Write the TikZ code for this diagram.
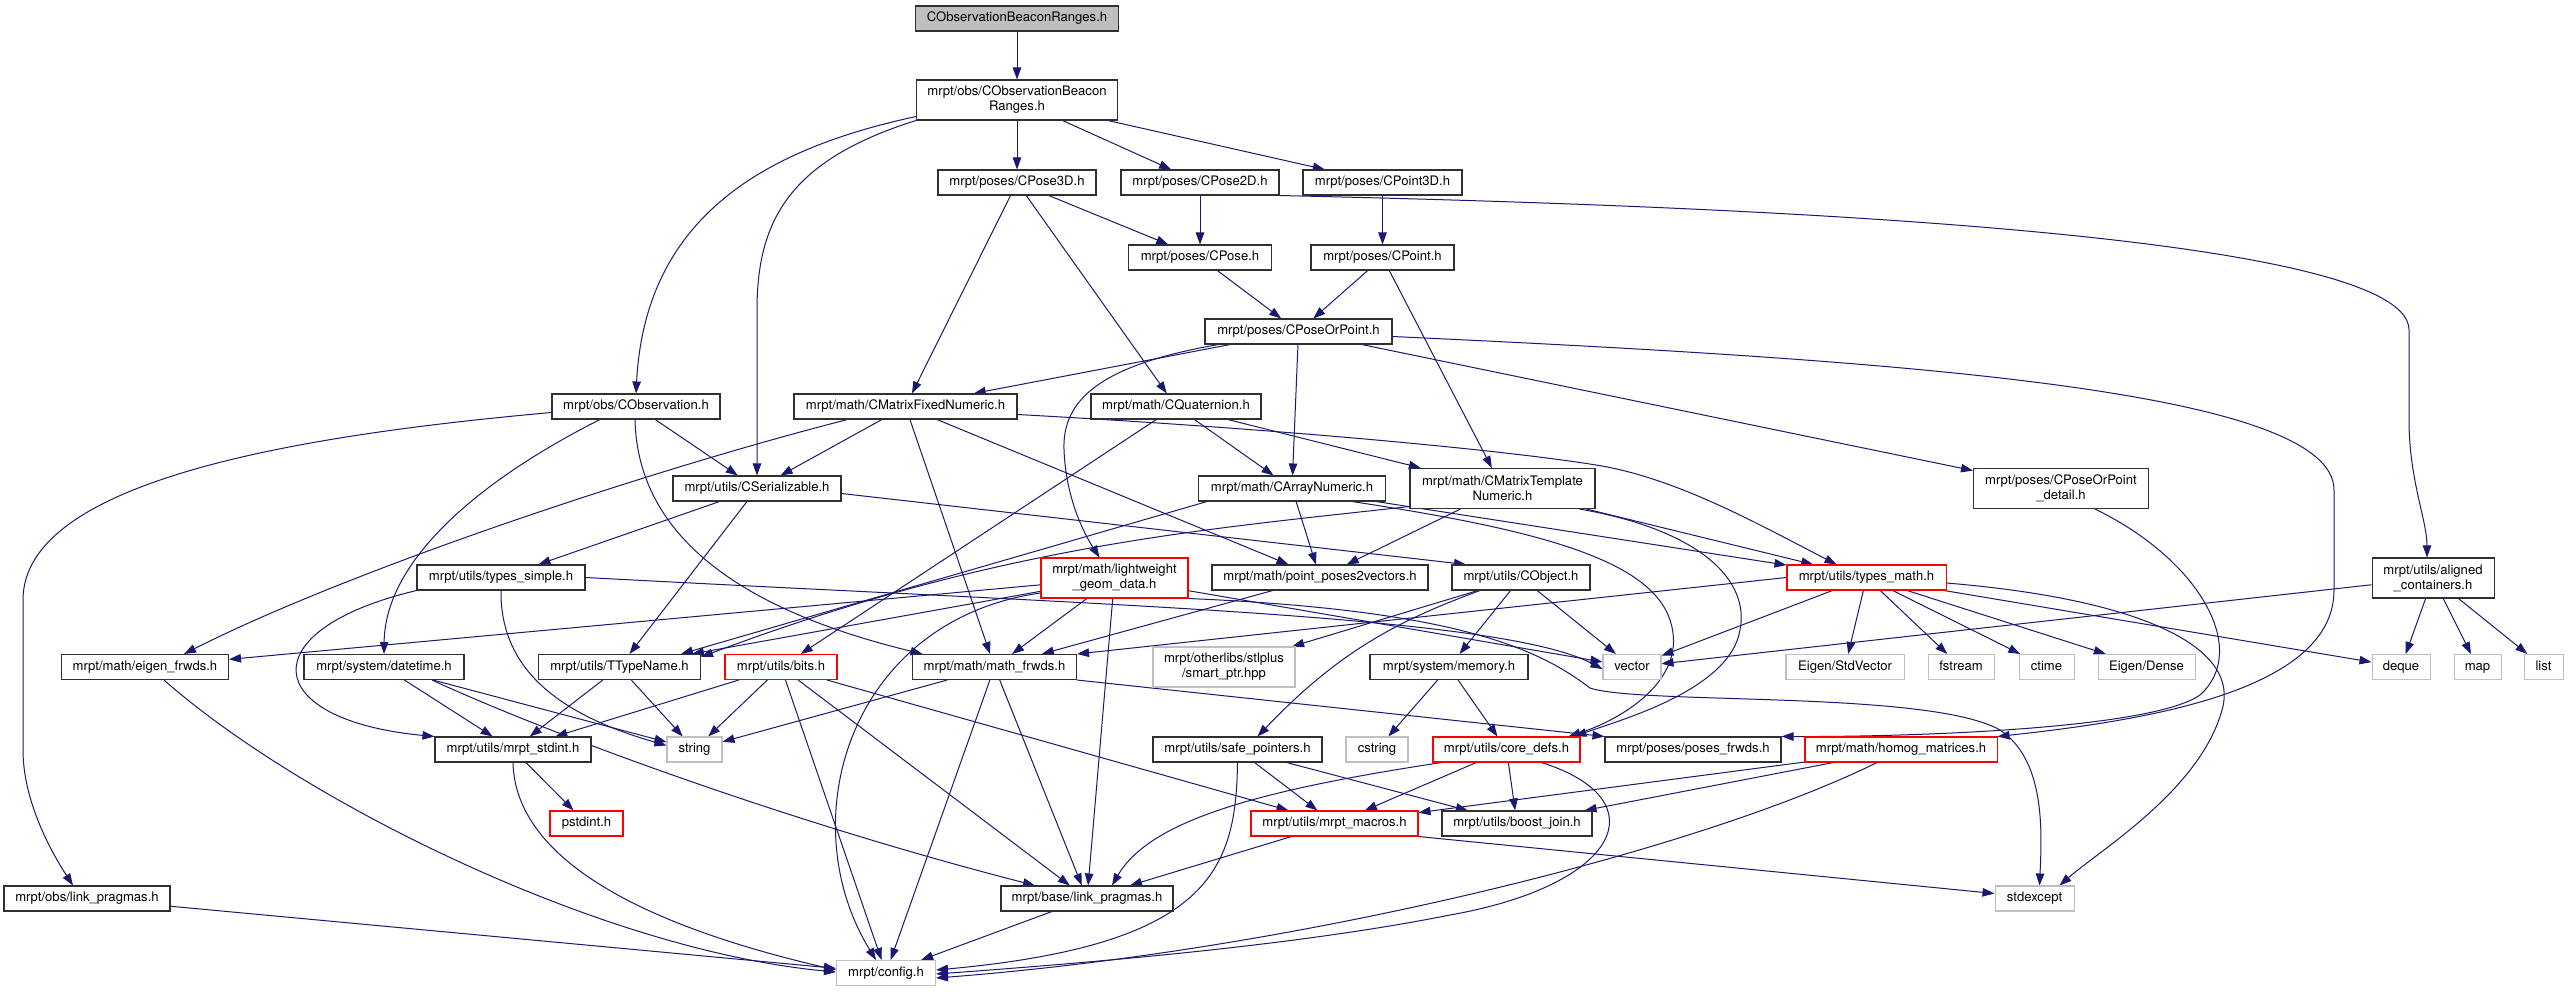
\documentclass[tikz,border=0pt]{standalone}
\usepackage{fontspec}
\setmainfont{TeX Gyre Heros}
\usetikzlibrary{arrows.meta,backgrounds}
\definecolor{edgeblue}{HTML}{191970}
\definecolor{greyline}{HTML}{BFBFBF}
\definecolor{topfill}{HTML}{BFBFBF}
\definecolor{boxline}{HTML}{303030}
\newcommand{\gfont}{\fontsize{13.1}{15}\selectfont}
\begin{document}
\begin{tikzpicture}[x=1pt,y=-1pt,
  box/.style={rectangle, draw, fill=white, line width=1.05pt, font=\gfont, inner xsep=2pt, inner ysep=0pt, align=center},
  one/.style={minimum height=25pt, text height=9.6pt, text depth=2.9pt},
  two/.style={minimum height=40pt},
  blk/.style={box, draw=boxline},
  rd/.style={box, draw=red},
  gr/.style={box, draw=greyline},
  dep/.style={draw=edgeblue, line width=1pt, -{Triangle[length=12pt,width=8.5pt]}},
]
\useasboundingbox (0,0) rectangle (2569,992);
% nodes
\node[blk,one,fill=topfill,minimum width=203pt] (top) at (1017,18.5) {CObservationBeaconRanges.h};
\node[blk,two,minimum width=201pt] (obsBR) at (1017,100) {mrpt/obs/CObservationBeacon\\Ranges.h};
\node[blk,one,minimum width=158pt] (pose3d) at (1017,182.5) {mrpt/poses/CPose3D.h};
\node[blk,one,minimum width=158pt] (pose2d) at (1200,182.5) {mrpt/poses/CPose2D.h};
\node[blk,one,minimum width=159pt] (point3d) at (1382.5,182.5) {mrpt/poses/CPoint3D.h};
\node[blk,one,minimum width=143pt] (pose) at (1200,257.5) {mrpt/poses/CPose.h};
\node[blk,one,minimum width=143pt] (point) at (1382.5,257.5) {mrpt/poses/CPoint.h};
\node[blk,one,minimum width=187pt] (poseorpoint) at (1298.5,331.5) {mrpt/poses/CPoseOrPoint.h};
\node[blk,one,minimum width=168pt] (cobservation) at (636,406.5) {mrpt/obs/CObservation.h};
\node[blk,one,minimum width=223pt] (cmfixed) at (905.5,406.5) {mrpt/math/CMatrixFixedNumeric.h};
\node[blk,one,minimum width=170pt] (quat) at (1176,406.5) {mrpt/math/CQuaternion.h};
\node[blk,one,minimum width=168pt] (serial) at (757,488.5) {mrpt/utils/CSerializable.h};
\node[blk,one,minimum width=187pt] (arraynum) at (1292,488.5) {mrpt/math/CArrayNumeric.h};
\node[blk,two,minimum width=185pt] (cmtempl) at (1502.5,488.5) {mrpt/math/CMatrixTemplate\\Numeric.h};
\node[blk,two,minimum width=175pt] (detail) at (2061,488.5) {mrpt/poses/CPoseOrPoint\\\_detail.h};
\node[blk,one,minimum width=168pt] (typessimple) at (501,577.5) {mrpt/utils/types\_simple.h};
\node[rd,two,minimum width=147pt] (lightweight) at (1114.5,578) {mrpt/math/lightweight\\\_geom\_data.h};
\node[blk,one,minimum width=216pt] (pp2v) at (1320,577.5) {mrpt/math/point\_poses2vectors.h};
\node[blk,one,minimum width=138pt] (cobject) at (1521,577.5) {mrpt/utils/CObject.h};
\node[rd,one,minimum width=159pt] (typesmath) at (1866.5,577.5) {mrpt/utils/types\_math.h};
\node[blk,two,minimum width=122pt] (aligned) at (2433,578) {mrpt/utils/aligned\\\_containers.h};
\node[blk,one,minimum width=167pt] (eigenfrwds) at (145,667) {mrpt/math/eigen\_frwds.h};
\node[blk,one,minimum width=160pt] (datetime) at (384,667) {mrpt/system/datetime.h};
\node[blk,one,minimum width=162pt] (ttypename) at (619.5,667) {mrpt/utils/TTypeName.h};
\node[rd,one,minimum width=112pt] (bits) at (781,667) {mrpt/utils/bits.h};
\node[blk,one,minimum width=164pt] (mathfrwds) at (994.5,667) {mrpt/math/math\_frwds.h};
\node[gr,two,minimum width=142pt] (smartptr) at (1224,667) {mrpt/otherlibs/stlplus\\/smart\_ptr.hpp};
\node[blk,one,minimum width=158pt] (memory) at (1449,667) {mrpt/system/memory.h};
\node[gr,one,minimum width=58pt] (vector) at (1632,667) {vector};
\node[gr,one,minimum width=118pt] (stdvector) at (1845,667) {Eigen/StdVector};
\node[gr,one,minimum width=66pt] (fstream) at (1961,667) {fstream};
\node[gr,one,minimum width=55pt] (ctime) at (2046.5,667) {ctime};
\node[gr,one,minimum width=97pt] (eigendense) at (2146.5,667) {Eigen/Dense};
\node[gr,one,minimum width=58pt] (deque) at (2401,667) {deque};
\node[gr,one,minimum width=47pt] (map) at (2477.5,667) {map};
\node[gr,one,minimum width=39pt] (list) at (2543.5,667) {list};
\node[blk,one,minimum width=156pt] (mrptstdint) at (513,749.5) {mrpt/utils/mrpt\_stdint.h};
\node[gr,one,minimum width=55pt] (string) at (694.5,749.5) {string};
\node[blk,one,minimum width=169pt] (safeptr) at (1237.5,749.5) {mrpt/utils/safe\_pointers.h};
\node[gr,one,minimum width=62pt] (cstring) at (1377,749.5) {cstring};
\node[rd,one,minimum width=147pt] (coredefs) at (1506.5,749.5) {mrpt/utils/core\_defs.h};
\node[blk,one,minimum width=176pt] (posesfrwds) at (1693,749.5) {mrpt/poses/poses\_frwds.h};
\node[rd,one,minimum width=192pt] (homog) at (1901,749.5) {mrpt/math/homog\_matrices.h};
\node[rd,one,minimum width=73pt] (pstdint) at (586.5,823.5) {pstdint.h};
\node[rd,one,minimum width=167pt] (macros) at (1334.5,823.5) {mrpt/utils/mrpt\_macros.h};
\node[blk,one,minimum width=150pt] (boostjoin) at (1517,823.5) {mrpt/utils/boost\_join.h};
\node[blk,one,minimum width=166pt] (obslink) at (87,898.5) {mrpt/obs/link\_pragmas.h};
\node[blk,one,minimum width=172pt] (baselink) at (1087,898.5) {mrpt/base/link\_pragmas.h};
\node[gr,one,minimum width=79pt] (stdexcept) at (2034.5,898.5) {stdexcept};
\node[gr,one,minimum width=99pt] (config) at (886,973) {mrpt/config.h};
% edges
\begin{pgfonlayer}{background}
\fill[white] (0,0) rectangle (2569,992);
\draw[dep] (top) -- (obsBR);
\draw[dep] (obsBR) -- (pose3d);
\draw[dep] (obsBR) -- (pose2d);
\draw[dep] (obsBR) -- (point3d);
\draw[dep] ([yshift=4pt]obsBR.south west) .. controls (760,150) and (645,220) .. (cobservation.north);
\draw[dep] (obsBR.south west) .. controls (790,160) and (757,220) .. (757,310) -- (serial.north);
\draw[dep] (pose3d) -- (cmfixed);
\draw[dep] (pose3d) -- (quat);
\draw[dep] (pose3d) -- (pose);
\draw[dep] (pose2d) -- (pose);
\draw[dep] (pose2d.south east) .. controls (1700,205) and (2409,230) .. (2409,330) -- (2409,420) .. controls (2409,480) and (2427,520) .. ([xshift=-6pt]aligned.north);
\draw[dep] (point3d) -- (point);
\draw[dep] (pose) -- (poseorpoint);
\draw[dep] (point) -- (poseorpoint);
\draw[dep] (point) -- (cmtempl);
\draw[dep] (poseorpoint) -- (cmfixed);
\draw[dep] ([xshift=-80pt]poseorpoint.south) .. controls (1100,365) and (1062,400) .. (1064,450) .. controls (1066,500) and (1085,535) .. ([xshift=-15pt]lightweight.north);
\draw[dep] (poseorpoint) -- (arraynum);
\draw[dep] (poseorpoint) -- (detail);
\draw[dep] ([yshift=-5pt]poseorpoint.east) .. controls (1900,360) and (2334,390) .. (2334,490) -- (2334,590) .. controls (2334,690) and (2150,720) .. (homog.north east);
\draw[dep] (cobservation) -- (serial);
\draw[dep] ([yshift=-6pt]cobservation.west) .. controls (300,435) and (23,480) .. (23,600) -- (23,750) .. controls (23,800) and (50,850) .. ([xshift=-14pt]obslink.north);
\draw[dep] ([xshift=-36pt]cobservation.south) .. controls (480,480) and (385,560) .. (datetime.north);
\draw[dep] ([xshift=-1pt]cobservation.south) .. controls (637,510) and (700,600) .. ([xshift=-72pt]mathfrwds.north);
\draw[dep] (cmfixed) -- (serial);
\draw[dep] ([xshift=-58pt]cmfixed.south) .. controls (650,470) and (350,570) .. ([xshift=39pt]eigenfrwds.north);
\draw[dep] (cmfixed) -- (mathfrwds);
\draw[dep] (cmfixed) -- (pp2v);
\draw[dep] ([yshift=-8pt]cmfixed.east) .. controls (1300,430) and (1520,452) .. (1602,466) .. controls (1680,480) and (1760,525) .. ([xshift=-30pt]typesmath.north);
\draw[dep] (quat) -- (arraynum);
\draw[dep] (quat) -- (cmtempl);
\draw[dep] (quat) -- (bits);
\draw[dep] (serial) -- (typessimple);
\draw[dep] (serial) -- (ttypename);
\draw[dep] ([yshift=-5pt]serial.east) -- ([xshift=-55pt]cobject.north);
\draw[dep] (arraynum) -- (pp2v);
\draw[dep] ([xshift=-85pt]arraynum.south) -- ([xshift=-20pt]ttypename.north east);
\draw[dep] (arraynum) -- (typesmath);
\draw[dep] ([xshift=60pt]arraynum.south) .. controls (1540,530) and (1650,560) .. (1670,620) .. controls (1690,680) and (1620,720) .. ([xshift=-12pt]coredefs.north east);
\draw[dep] (cmtempl) -- (pp2v);
\draw[dep] ([yshift=-18pt]cmtempl.west) .. controls (1200,530) and (1000,545) .. ([yshift=-3pt]ttypename.north east);
\draw[dep] (cmtempl) -- (typesmath);
\draw[dep] ([xshift=77pt]cmtempl.south) .. controls (1700,530) and (1750,580) .. (1740,630) .. controls (1730,690) and (1620,720) .. ([xshift=-6pt]coredefs.north east);
\draw[dep] ([xshift=34pt]detail.south) .. controls (2200,560) and (2250,650) .. (2200,695) .. controls (2150,730) and (1900,737) .. (posesfrwds.north east);
\draw[dep] (typessimple.east) .. controls (1100,605) and (1500,615) .. ([yshift=-2pt]vector.west);
\draw[dep] (typessimple.south) .. controls (500,670) and (560,715) .. ([yshift=4pt]string.west);
\draw[dep] (typessimple.south west) .. controls (250,630) and (260,720) .. (mrptstdint.north west);
\draw[dep] (datetime) -- (mrptstdint);
\draw[dep] (datetime) -- (string);
\draw[dep] ([xshift=48pt]datetime.south) .. controls (540,730) and (780,820) .. ([xshift=-52pt]baselink.north);
\draw[dep] (ttypename) -- (mrptstdint);
\draw[dep] (ttypename) -- (string);
\draw[dep] (bits) -- (mrptstdint);
\draw[dep] (bits) -- (string);
\draw[dep] (bits) -- (config);
\draw[dep] (bits) -- (baselink);
\draw[dep] (bits) -- (macros);
\draw[dep] (mathfrwds) -- (string);
\draw[dep] (mathfrwds) -- (config);
\draw[dep] (mathfrwds) -- (baselink);
\draw[dep] (mathfrwds.south east) -- (posesfrwds.north west);
\draw[dep] (memory) -- (cstring);
\draw[dep] (memory) -- (coredefs);
\draw[dep] (mrptstdint) -- (pstdint);
\draw[dep] (mrptstdint.south) .. controls (515,850) and (620,920) .. ([yshift=3pt]config.west);
\draw[dep] (safeptr) -- (macros);
\draw[dep] (safeptr) -- (boostjoin);
\draw[dep] (safeptr.south) .. controls (1236,870) and (1210,945) .. ([yshift=3pt]config.east);
\draw[dep] (coredefs) -- (macros);
\draw[dep] (coredefs) -- (boostjoin);
\draw[dep] ([xshift=-65pt]coredefs.south) .. controls (1260,790) and (1150,820) .. ([xshift=25pt]baselink.north);
\draw[dep] ([xshift=35pt]coredefs.south) .. controls (1660,800) and (1620,885) .. (1450,915) .. controls (1300,945) and (1100,962) .. ([yshift=-1pt]config.east);
\draw[dep] (homog) -- (macros);
\draw[dep] (homog) -- (boostjoin);
\draw[dep] ([xshift=-24pt]homog.south) .. controls (1700,850) and (1300,950) .. ([yshift=-5pt]config.east);
\draw[dep] (macros) -- (baselink);
\draw[dep] (macros.south east) -- ([yshift=5pt]stdexcept.west);
\draw[dep] (obslink) -- (config);
\draw[dep] (baselink) -- (config);
\draw[dep] ([xshift=19pt]eigenfrwds.south) .. controls (300,800) and (600,950) .. ([yshift=1pt]config.west);
\draw[dep] (lightweight) -- (ttypename);
\draw[dep] (lightweight) -- (eigenfrwds);
\draw[dep] (lightweight) -- (mathfrwds);
\draw[dep] (lightweight) -- (baselink);
\draw[dep] ([yshift=-15pt]lightweight.west) .. controls (850,620) and (790,820) .. ([xshift=-10pt]config.north);
\draw[dep] (lightweight.south east) .. controls (1460,610) and (1540,650) .. (1590,688) .. controls (1640,705) and (1930,690) .. (2000,730) .. controls (2045,760) and (2042,830) .. ([xshift=5pt]stdexcept.north);
\draw[dep] (lightweight) -- (vector);
\draw[dep] (pp2v) -- (mathfrwds);
\draw[dep] (cobject) -- (smartptr);
\draw[dep] (cobject) -- (memory);
\draw[dep] (cobject) -- (vector);
\draw[dep] ([xshift=-41pt]cobject.south) .. controls (1400,620) and (1340,650) .. ([xshift=20pt]safeptr.north);
\draw[dep] (typesmath) -- (stdvector);
\draw[dep] (typesmath) -- (fstream);
\draw[dep] (typesmath) -- (ctime);
\draw[dep] (typesmath) -- (eigendense);
\draw[dep] (typesmath) -- (vector);
\draw[dep] (typesmath) -- (deque);
\draw[dep] ([yshift=-5.5pt]typesmath.east) .. controls (2150,600) and (2240,650) .. (2222,710) .. controls (2200,790) and (2100,850) .. ([xshift=25pt]stdexcept.north);
\draw[dep] (typesmath.west) -- (mathfrwds.north east);
\draw[dep] (aligned) -- (vector);
\draw[dep] (aligned) -- (deque);
\draw[dep] (aligned) -- (map);
\draw[dep] (aligned) -- (list);
\end{pgfonlayer}
\end{tikzpicture}
\end{document}
